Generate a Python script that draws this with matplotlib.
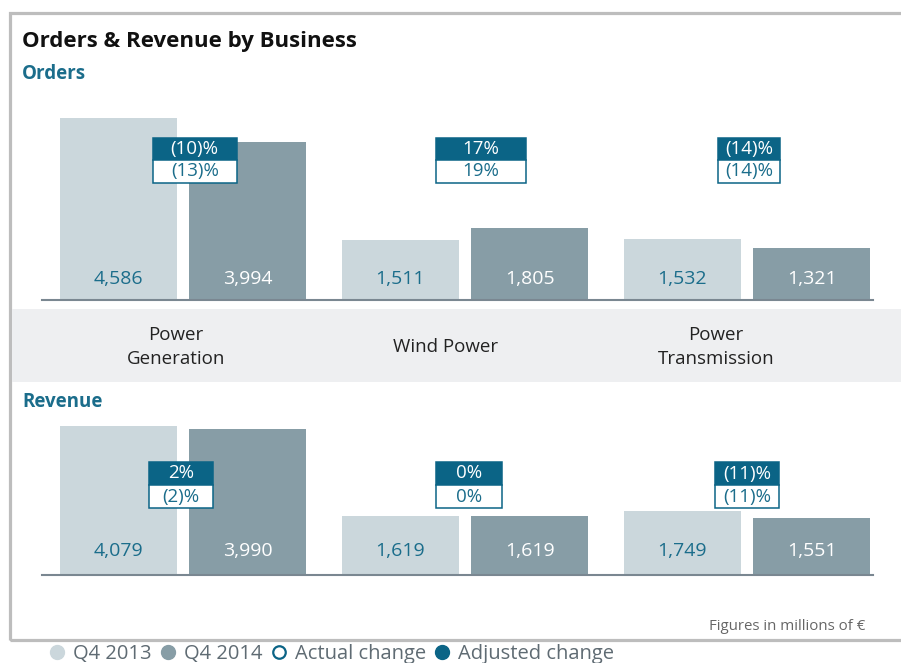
import matplotlib
matplotlib.use("Agg")
import matplotlib.pyplot as plt
import matplotlib.transforms as mtrans
from matplotlib.patches import Rectangle
from matplotlib.lines import Line2D
import numpy as np

plt.rcParams['font.family'] = ['Open Sans', 'DejaVu Sans']

# data
businesses = ['Power\nGeneration', 'Wind Power', 'Power\nTransmission']
orders_q413 = [4586, 1511, 1532]
orders_q414 = [3994, 1805, 1321]
orders_adjusted = ['(10)%', '17%', '(14)%']
orders_actual = ['(13)%', '19%', '(14)%']
revenue_q413 = [4079, 1619, 1749]
revenue_q414 = [3990, 1619, 1551]
revenue_adjusted = ['2%', '0%', '(11)%']
revenue_actual = ['(2)%', '0%', '(11)%']
legend_labels = ['Q4 2013', 'Q4 2014', 'Actual change', 'Adjusted change']

# colours
light = '#cbd7dc'
mid = '#879da6'
teal = '#0b6486'
teal_txt = '#1b6d8b'
base_col = '#7a8791'

W, H = 901, 663
fig = plt.figure(figsize=(W / 100, H / 100), dpi=100)


def fr(x0, y0, x1, y1):
    return [x0 / W, 1 - y1 / H, (x1 - x0) / W, (y1 - y0) / H]


# outer frame and category band
fig.patches.append(Rectangle((9.5 / W, 1 - 640 / H), 1.0, (640 - 13) / H,
                             transform=fig.transFigure, fill=False,
                             edgecolor='#bdbdbd', lw=2.3, zorder=0))
fig.patches.append(Rectangle((12 / W, 1 - 382 / H), 1.0, (382 - 309) / H,
                             transform=fig.transFigure, facecolor='#eeeff1',
                             edgecolor='none', zorder=0))

x = np.arange(len(businesses))
off = 0.2296
bw = 0.415


def panel(rect, ymax, q13, q14, adj, act, label_y, box_y, box_x, box_w):
    ax = fig.add_axes(fr(*rect))
    ax.set_facecolor('none')
    ax.bar(x - off, q13, width=bw, color=light, zorder=2)
    ax.bar(x + off, q14, width=bw, color=mid, zorder=2)
    ax.set_xlim(-0.5, 2.447)
    ax.set_ylim(0, ymax)
    for s in ['top', 'right', 'left']:
        ax.spines[s].set_visible(False)
    ax.spines['bottom'].set_color(base_col)
    ax.spines['bottom'].set_linewidth(1.5)
    ax.set_xticks([])
    ax.set_yticks([])
    tr = mtrans.blended_transform_factory(ax.transData, ax.transAxes)
    for i in range(len(x)):
        ax.text(x[i] - off, label_y, f'{q13[i]:,}', transform=tr, ha='center',
                va='center', fontsize=14, color=teal_txt, zorder=3)
        ax.text(x[i] + off, label_y, f'{q14[i]:,}', transform=tr, ha='center',
                va='center', fontsize=14, color='white', zorder=3)
        top, midl, bot = box_y
        cx = x[i] + box_x[i]
        w = box_w[i]
        ax.add_patch(Rectangle((cx - w / 2, midl), w, top - midl, transform=tr,
                               facecolor=teal, edgecolor=teal, lw=1.1, zorder=4))
        ax.add_patch(Rectangle((cx - w / 2, bot), w, midl - bot, transform=tr,
                               facecolor='white', edgecolor=teal, lw=1.1, zorder=4))
        ax.text(cx, (top + midl) / 2, adj[i], transform=tr, ha='center',
                va='center', fontsize=13.5, color='white', zorder=5)
        ax.text(cx, (midl + bot) / 2, act[i], transform=tr, ha='center',
                va='center', fontsize=13.5, color=teal_txt, zorder=5)
    return ax


panel((42, 100, 873, 300), 5040, orders_q413, orders_q414,
      orders_adjusted, orders_actual, 0.105, (0.81, 0.70, 0.585),
      [0.0415, 0.057, 0.007], [0.298, 0.319, 0.22])
panel((42, 400, 873, 575), 4791, revenue_q413, revenue_q414,
      revenue_adjusted, revenue_actual, 0.137, (0.646, 0.514, 0.383),
      [-0.007, 0.014, 0.0], [0.227, 0.234, 0.23])

# category labels in the band
for name, px in zip(businesses, [176, 446, 716]):
    fig.text(px / W, 1 - 347 / H, name, ha='center', va='center',
             fontsize=13.5, color='#222222', linespacing=1.5)

fig.text(22 / W, 1 - 41 / H, 'Orders & Revenue by Business', ha='left',
         va='center', fontsize=16, fontweight='bold', color='#111111')
fig.text(22 / W, 1 - 74 / H, 'Orders', ha='left', va='center', fontsize=13.5,
         fontweight='bold', color=teal_txt)
fig.text(22 / W, 1 - 402 / H, 'Revenue', ha='left', va='center', fontsize=13.5,
         fontweight='bold', color=teal_txt)
fig.text(865 / W, 1 - 627 / H, 'Figures in millions of €', ha='right',
         va='center', fontsize=10.8, color='#666666')

handles = [
    Line2D([], [], ls='', marker='o', markersize=10, markerfacecolor=light, markeredgecolor=light),
    Line2D([], [], ls='', marker='o', markersize=10, markerfacecolor=mid, markeredgecolor=mid),
    Line2D([], [], ls='', marker='o', markersize=9, markerfacecolor='white', markeredgecolor=teal, markeredgewidth=1.6),
    Line2D([], [], ls='', marker='o', markersize=10, markerfacecolor=teal, markeredgecolor=teal),
]
leg = fig.legend(handles, legend_labels, loc='center left',
                 bbox_to_anchor=(48 / W, 1 - 654 / H), ncol=4, frameon=False,
                 handletextpad=0.35, columnspacing=0.35, handlelength=0.9,
                 borderpad=0, borderaxespad=0, fontsize=14.5)
for t in leg.get_texts():
    t.set_color('#5f6b73')

fig.savefig('out.png', dpi=100)
